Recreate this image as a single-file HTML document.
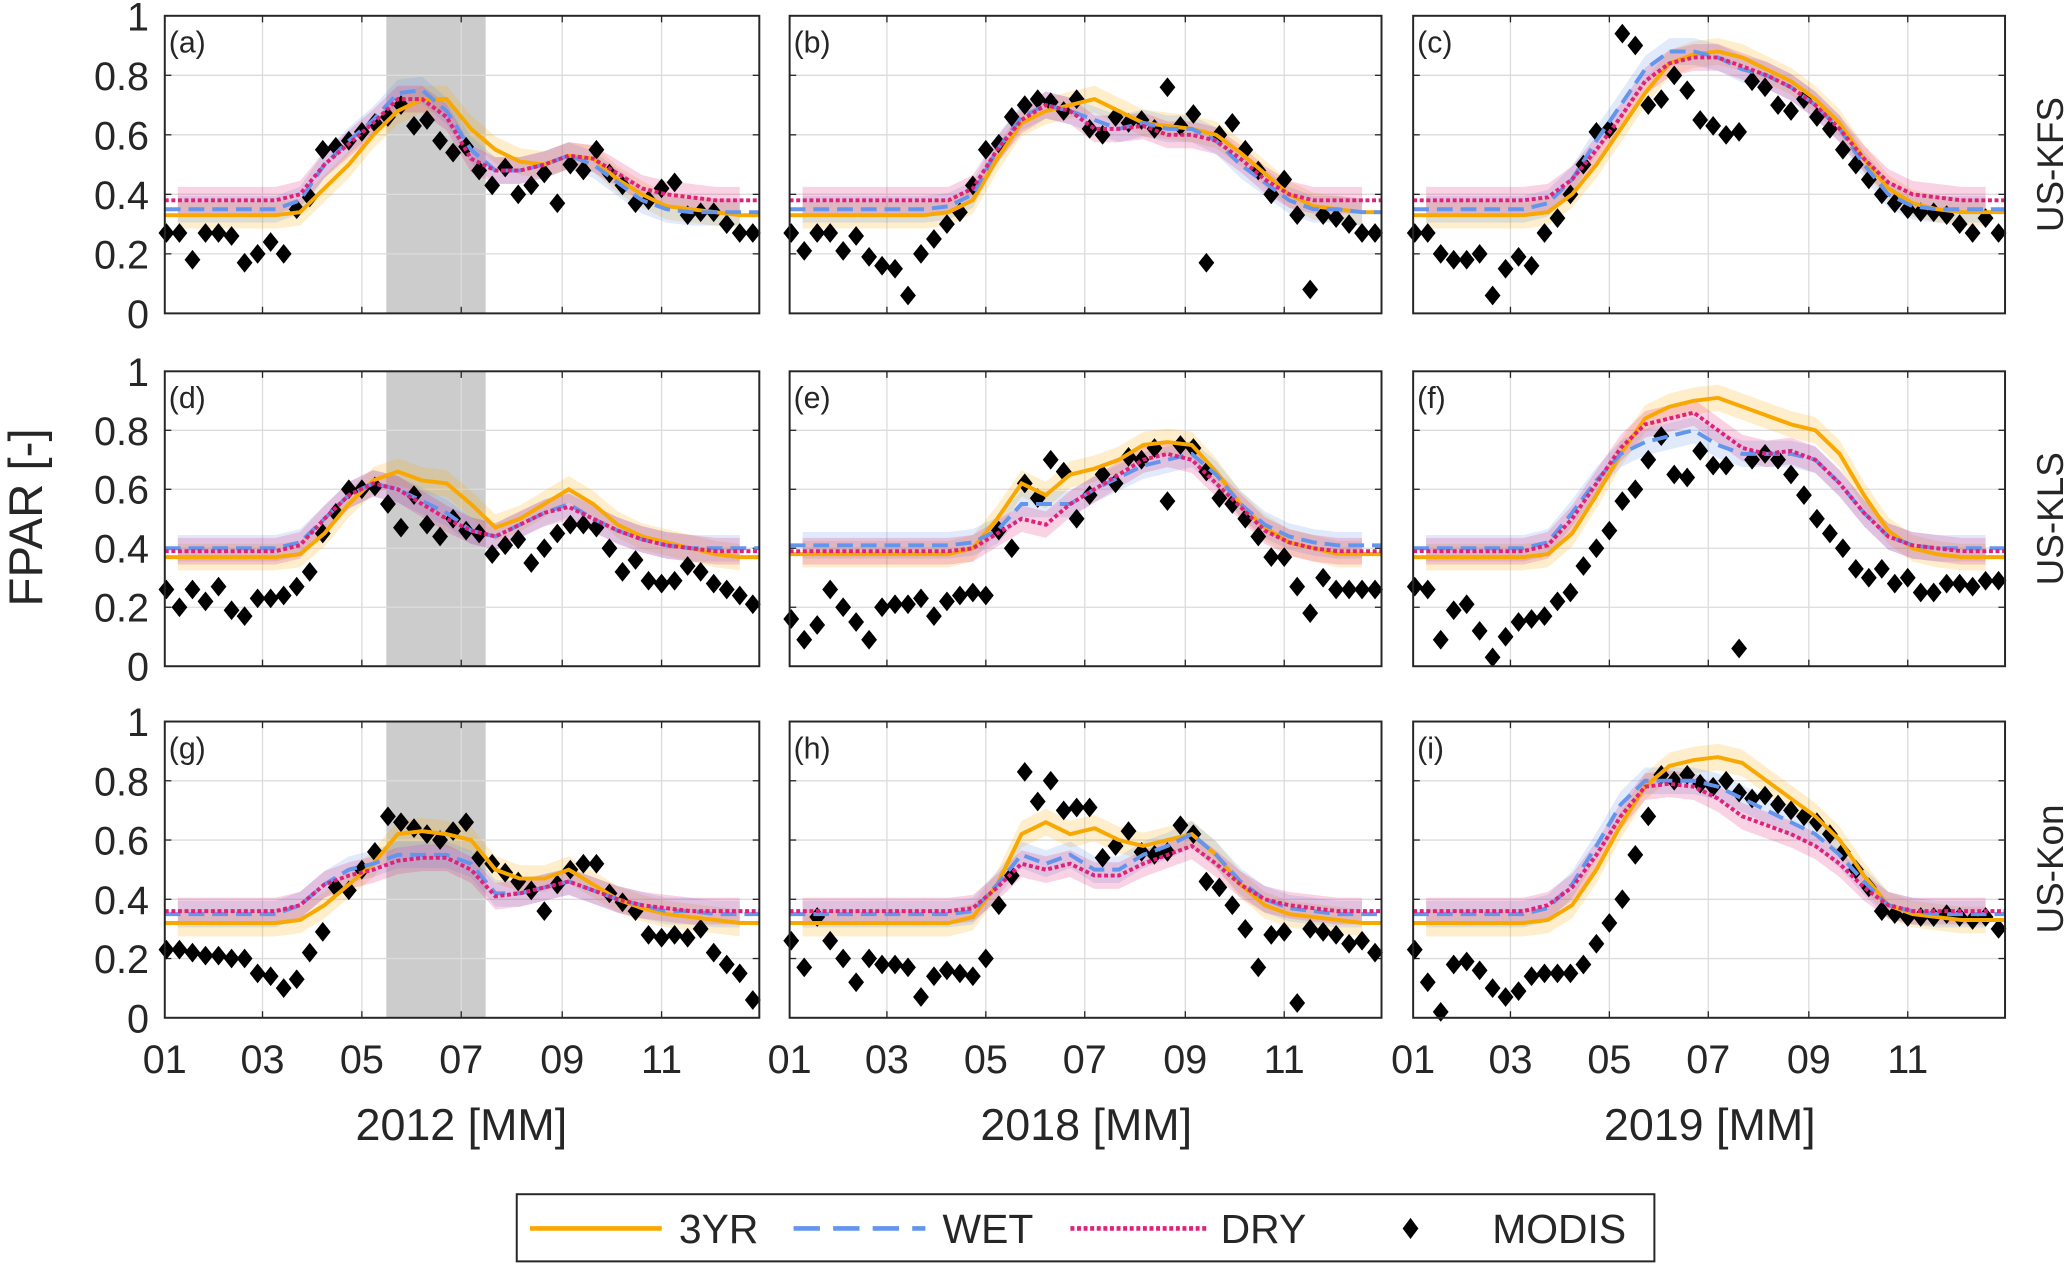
<!DOCTYPE html>
<html><head><meta charset="utf-8"><style>
html,body{margin:0;padding:0;background:#fff;}
svg{display:block;}
text{font-family:"Liberation Sans",sans-serif;fill:#262626;}
</style></head><body>
<svg id="fig" width="2067" height="1264" viewBox="0 0 1568 960" preserveAspectRatio="none" xmlns="http://www.w3.org/2000/svg">
<text x="32" y="393" font-size="36" text-anchor="middle" transform="rotate(-90 32 393)">FPAR [-]</text>
<text x="1565" y="125" font-size="28" text-anchor="middle" transform="rotate(-90 1565 125)">US-KFS</text>
<text x="1565" y="394" font-size="28" text-anchor="middle" transform="rotate(-90 1565 394)">US-KLS</text>
<text x="1565" y="660" font-size="28" text-anchor="middle" transform="rotate(-90 1565 660)">US-Kon</text>
<text x="350" y="866" font-size="34" text-anchor="middle">2012 [MM]</text>
<text x="824" y="866" font-size="34" text-anchor="middle">2018 [MM]</text>
<text x="1297" y="866" font-size="34" text-anchor="middle">2019 [MM]</text>
<g>
<rect x="392" y="907" width="863" height="51" fill="#fff" stroke="#262626" stroke-width="1.5"/>
<g><line x1="402" y1="933" x2="502" y2="933" stroke="#F8A800" stroke-width="3.5"/><text x="515" y="944" font-size="31">3YR</text></g>
<g><line x1="602" y1="933" x2="702" y2="933" stroke="#6495ED" stroke-width="3.5" stroke-dasharray="20,10"/><text x="715" y="944" font-size="31">WET</text></g>
<g><line x1="812" y1="933" x2="915" y2="933" stroke="#E0207A" stroke-width="3.5" stroke-dasharray="3,2"/><text x="926" y="944" font-size="31">DRY</text></g>
<g><path d="M1070 925 L1076 933 L1070 941 L1064 933 Z" fill="#000"/><text x="1132" y="944" font-size="31">MODIS</text></g>
</g>
</svg>
<script>
const dayLine=[8,23,38,53,68,83,98,113,128,143,158,173,188,203,218,233,248,263,278,293,308,323,338,353];
const panelLabels=["a","b","c","d","e","f","g","h","i"];
const yTicks=[0,0.2,0.4,0.6,0.8,1];
const yTickLabels=["0","0.2","0.4","0.6","0.8","1"];
const xTickMonths=["01","03","05","07","09","11"];
const xTickDays=[0,60,121,182,244,305];
const droughtStart=136, droughtEnd=197;
const yr3=[
[.33,.33,.33,.33,.33,.34,.42,.50,.60,.68,.72,.72,.62,.55,.51,.50,.53,.52,.45,.40,.36,.35,.34,.33],
[.33,.33,.33,.33,.33,.33,.34,.38,.52,.64,.68,.70,.72,.68,.64,.63,.62,.60,.54,.47,.40,.36,.35,.34],
[.33,.33,.33,.33,.33,.34,.40,.50,.62,.74,.84,.87,.88,.86,.82,.78,.72,.64,.52,.42,.37,.35,.34,.34],
[.37,.37,.37,.37,.37,.38,.45,.55,.63,.66,.63,.62,.55,.47,.50,.55,.60,.55,.48,.44,.42,.40,.38,.37],
[.38,.38,.38,.38,.38,.38,.38,.40,.50,.62,.58,.65,.67,.70,.75,.76,.75,.66,.55,.47,.42,.40,.38,.38],
[.37,.37,.37,.37,.37,.38,.45,.58,.72,.84,.88,.90,.91,.88,.85,.82,.80,.72,.58,.46,.40,.38,.37,.37],
[.32,.32,.32,.32,.32,.33,.38,.45,.52,.62,.63,.62,.60,.50,.47,.47,.50,.45,.40,.37,.35,.34,.33,.32],
[.32,.32,.32,.32,.32,.32,.32,.34,.45,.62,.66,.62,.64,.60,.58,.60,.62,.55,.45,.38,.35,.34,.33,.32],
[.32,.32,.32,.32,.32,.33,.38,.50,.65,.78,.85,.87,.88,.86,.80,.74,.68,.60,.48,.38,.35,.34,.33,.33]];
const wet=[
[.35,.35,.35,.35,.35,.38,.50,.58,.65,.74,.75,.68,.55,.48,.48,.50,.53,.50,.44,.38,.35,.34,.34,.34],
[.35,.35,.35,.35,.35,.35,.36,.40,.55,.66,.70,.68,.65,.62,.64,.62,.62,.58,.50,.44,.38,.35,.35,.34],
[.35,.35,.35,.35,.35,.37,.45,.58,.70,.82,.88,.88,.86,.82,.80,.76,.70,.62,.50,.40,.36,.35,.35,.35],
[.40,.40,.40,.40,.40,.42,.50,.58,.62,.60,.56,.52,.46,.44,.48,.52,.55,.50,.46,.43,.41,.40,.40,.40],
[.41,.41,.41,.41,.41,.41,.41,.42,.46,.55,.55,.55,.60,.64,.68,.70,.72,.65,.55,.48,.44,.42,.41,.41],
[.40,.40,.40,.40,.40,.42,.52,.63,.72,.76,.78,.80,.75,.72,.72,.72,.70,.62,.52,.44,.41,.40,.40,.40],
[.35,.35,.35,.35,.35,.38,.45,.50,.52,.55,.55,.55,.52,.42,.42,.44,.46,.43,.40,.38,.36,.36,.35,.35],
[.35,.35,.35,.35,.35,.35,.35,.36,.45,.55,.52,.55,.50,.50,.55,.58,.62,.55,.46,.40,.37,.36,.35,.35],
[.35,.35,.35,.35,.35,.37,.45,.58,.72,.80,.80,.80,.78,.74,.70,.66,.62,.55,.46,.38,.36,.35,.35,.35]];
const dry=[
[.38,.38,.38,.38,.38,.40,.50,.57,.64,.72,.72,.66,.52,.48,.48,.50,.53,.52,.47,.42,.40,.39,.38,.38],
[.38,.38,.38,.38,.38,.38,.38,.42,.55,.65,.70,.68,.62,.62,.63,.60,.60,.58,.52,.45,.40,.38,.38,.38],
[.38,.38,.38,.38,.38,.39,.45,.55,.66,.78,.84,.86,.86,.83,.80,.76,.70,.62,.52,.44,.40,.39,.38,.38],
[.39,.39,.39,.39,.39,.41,.50,.58,.62,.60,.55,.50,.46,.44,.48,.52,.54,.50,.46,.43,.41,.40,.39,.39],
[.39,.39,.39,.39,.39,.39,.39,.40,.45,.50,.48,.55,.60,.65,.70,.72,.70,.62,.54,.46,.42,.40,.39,.39],
[.39,.39,.39,.39,.39,.41,.50,.62,.74,.82,.84,.86,.80,.74,.72,.73,.70,.62,.52,.44,.41,.40,.39,.39],
[.36,.36,.36,.36,.36,.38,.45,.48,.50,.53,.54,.54,.50,.41,.42,.44,.46,.43,.40,.38,.37,.36,.36,.36],
[.36,.36,.36,.36,.36,.36,.36,.37,.44,.52,.50,.52,.48,.48,.52,.55,.58,.52,.45,.40,.38,.37,.36,.36],
[.36,.36,.36,.36,.36,.38,.44,.55,.68,.78,.79,.78,.74,.68,.65,.62,.58,.52,.44,.38,.36,.36,.36,.36]];
const modis=[
[.27,.27,.18,.27,.27,.26,.17,.20,.24,.20,.35,.39,.55,.56,.58,.61,.64,.66,.70,.63,.65,.58,.54,.56,.48,.43,.49,.40,.43,.47,.37,.50,.48,.55,.47,.43,.37,.38,.42,.44,.33,.34,.34,.30,.27,.27],
[.27,.21,.27,.27,.21,.26,.19,.16,.15,.06,.20,.25,.30,.34,.43,.55,.57,.66,.70,.72,.71,.68,.72,.62,.60,.66,.64,.65,.62,.76,.63,.67,.17,.60,.64,.55,.48,.40,.45,.33,.08,.33,.32,.30,.27,.27],
[.27,.27,.20,.18,.18,.20,.06,.15,.19,.16,.27,.32,.40,.50,.61,.62,.94,.90,.70,.72,.80,.75,.65,.63,.60,.61,.78,.76,.70,.68,.72,.66,.62,.55,.50,.45,.40,.37,.35,.34,.34,.33,.30,.27,.32,.27],
[.26,.20,.26,.22,.27,.19,.17,.23,.23,.24,.27,.32,.45,.52,.60,.60,.61,.55,.47,.58,.48,.44,.50,.46,.45,.38,.41,.43,.35,.40,.45,.48,.48,.47,.40,.32,.36,.29,.28,.29,.34,.32,.28,.26,.24,.21],
[.16,.09,.14,.26,.20,.15,.09,.20,.21,.21,.23,.17,.22,.24,.25,.24,.46,.40,.62,.57,.70,.66,.50,.58,.65,.62,.71,.70,.74,.56,.75,.74,.66,.57,.55,.50,.44,.37,.37,.27,.18,.30,.26,.26,.26,.26],
[.27,.26,.09,.19,.21,.12,.03,.10,.15,.16,.17,.22,.25,.34,.40,.46,.56,.60,.70,.78,.65,.64,.73,.68,.68,.06,.70,.72,.70,.65,.58,.50,.45,.40,.33,.30,.33,.28,.30,.25,.25,.28,.28,.27,.29,.29],
[.23,.23,.22,.21,.21,.20,.20,.15,.14,.10,.13,.22,.29,.44,.43,.50,.56,.68,.66,.64,.62,.60,.63,.66,.54,.52,.49,.46,.43,.36,.45,.50,.52,.52,.42,.39,.36,.28,.27,.28,.27,.30,.22,.18,.15,.06],
[.26,.17,.34,.26,.20,.12,.20,.18,.18,.17,.07,.14,.16,.15,.14,.20,.38,.48,.83,.73,.80,.70,.71,.71,.54,.58,.63,.56,.55,.56,.65,.62,.46,.44,.38,.30,.17,.28,.29,.05,.30,.29,.28,.25,.26,.22],
[.23,.12,.02,.18,.19,.16,.10,.07,.09,.14,.15,.15,.15,.18,.25,.32,.40,.55,.68,.82,.80,.82,.79,.78,.80,.76,.74,.75,.72,.70,.68,.66,.62,.56,.50,.44,.36,.35,.34,.34,.34,.35,.34,.33,.34,.30]];
const modisDays=[];for(let k=0;k<46;k++)modisDays.push(1+8*k);

const NS="http://www.w3.org/2000/svg";
const svg=document.getElementById('fig');
const colX=[[125,576],[599,1048],[1072,1521]];
const rowY=[[12,238],[282,506],[548,773]];
function mk(tag,attrs,parent){const e=document.createElementNS(NS,tag);for(const k in attrs)e.setAttribute(k,attrs[k]);(parent||svg).appendChild(e);return e;}
for(let p=0;p<9;p++){
  const c=p%3,r=Math.floor(p/3);
  const x0=colX[c][0],x1=colX[c][1],yb=rowY[r][1],yt=rowY[r][0];
  const xs=d=>x0+(x1-x0)*d/365;
  const ys=v=>yb-(yb-yt)*v;
  const g=mk('g',{});
  
  
  const bg=mk('rect',{x:x0,y:yt,width:x1-x0,height:yb-yt,fill:'#fff'},g);
  
  
  if(c===0){const s=mk('rect',{x:xs(droughtStart),y:yt,width:xs(droughtEnd)-xs(droughtStart),height:yb-yt,fill:'#cccccc'},g);
    
    }
  yTicks.forEach((t,i)=>{
    if(i>0&&i<yTicks.length-1){const gl=mk('line',{x1:x0,x2:x1,y1:ys(t),y2:ys(t),stroke:'#dcdcdc','stroke-width':1},g);
      
      }
    if(c===0){const tl=mk('text',{x:x0-12,y:ys(t)+11,'font-size':30,'text-anchor':'end'},g);tl.textContent=yTickLabels[i];
      
      }
    mk('line',{x1:x0,x2:x0+5,y1:ys(t),y2:ys(t),stroke:'#262626'},g);
    mk('line',{x1:x1,x2:x1-5,y1:ys(t),y2:ys(t),stroke:'#262626'},g);
  });
  xTickDays.forEach((d,i)=>{
    if(i>0){const gl=mk('line',{x1:xs(d),x2:xs(d),y1:yt,y2:yb,stroke:'#dcdcdc','stroke-width':1},g);
      
      }
    mk('line',{x1:xs(d),x2:xs(d),y1:yt,y2:yt+5,stroke:'#262626'},g);
    mk('line',{x1:xs(d),x2:xs(d),y1:yb,y2:yb-5,stroke:'#262626'},g);
    if(r===2){const tl=mk('text',{x:xs(d),y:815,'font-size':30,'text-anchor':'middle'},g);tl.textContent=xTickMonths[i];
      
      }
  });
  [[yr3[p],'#F8A800'],[wet[p],'#6495ED'],[dry[p],'#E0207A']].forEach(([v,col])=>{
    let up=[],dn=[];
    v.forEach((val,i)=>{up.push(xs(dayLine[i])+','+ys(val+0.045));dn.unshift(xs(dayLine[i])+','+ys(val-0.045));});
    const b=mk('polygon',{points:up.concat(dn).join(' '),fill:col,'fill-opacity':0.2},g);
    
    
  });
  modis[p].forEach((v,i)=>{
    const x=xs(modisDays[i]),y=ys(v);
    const m=mk('path',{d:`M${x} ${y-7.5}L${x+6} ${y}L${x} ${y+7.5}L${x-6} ${y}Z`,fill:'#000'},g);
    
    
  });
  [[yr3[p],'#F8A800','','line-3yr'],[wet[p],'#6495ED','12,6','line-wet'],[dry[p],'#E0207A','3,2','line-dry']].forEach(([v,col,da,nm])=>{
    const pts=v.map((val,i)=>xs(dayLine[i])+','+ys(val));
    pts.unshift(x0+','+ys(v[0]));pts.push(x1+','+ys(v[v.length-1]));
    const l=mk('polyline',{points:pts.join(' '),fill:'none',stroke:col,'stroke-width':3,'stroke-dasharray':da},g);
    
    
  });
  const fr=mk('rect',{x:x0,y:yt,width:x1-x0,height:yb-yt,fill:'none',stroke:'#262626','stroke-width':1.5},g);
  
  
  const pl=mk('text',{x:x0+3,y:yt+28,'font-size':23},g);pl.textContent='('+panelLabels[p]+')';
  
  
}
</script>
</body></html>
